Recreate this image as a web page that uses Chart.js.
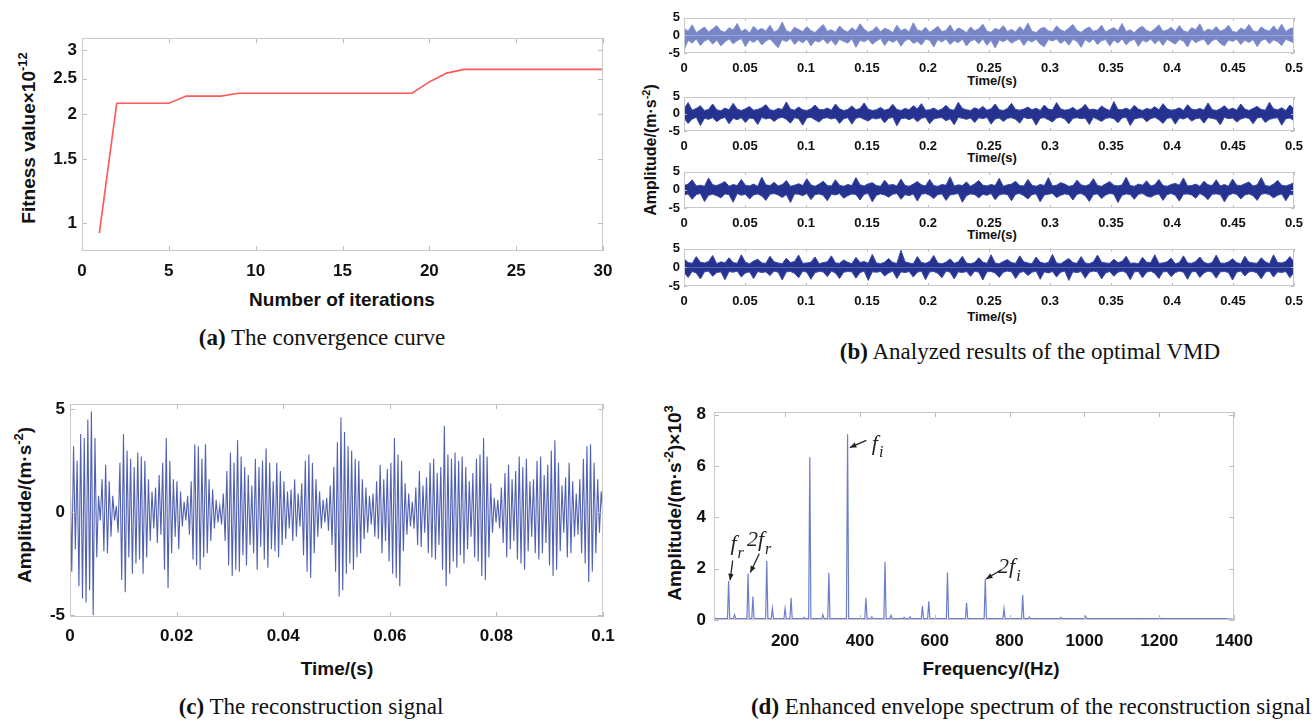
<!DOCTYPE html>
<html>
<head>
<meta charset="utf-8">
<script src="https://cdn.jsdelivr.net/npm/chart.js@4.4.1/dist/chart.umd.min.js"></script>
<style>
  body { margin: 0; background: #fff; width: 1315px; height: 724px; position: relative; overflow: hidden; }
  canvas { position: absolute; }
  .t { position: absolute; white-space: nowrap; font-weight: bold; color: #111; line-height: 1;
       font-family: 'Liberation Sans Narrow', 'Arial Narrow', 'Liberation Sans', Arial, sans-serif;
       transform: translate(-50%, -50%); }
  .rot { transform: translate(-50%, -50%) rotate(-90deg); }
  .t sup { font-size: 0.68em; line-height: 0; vertical-align: 0.55em; }
  .cap { position: absolute; white-space: nowrap; color: #111; line-height: 1;
         font-family: 'Liberation Serif', 'Times New Roman', serif; font-size: 23px;
         transform: translate(-50%, -50%); }
</style>
</head>
<body>

<div class="t rot" style="left:28px;top:138px;font-size:19px">Fitness value×10<sup>-12</sup></div>
<div class="t" style="left:342px;top:299px;font-size:19px">Number of iterations</div>
<div class="cap" style="left:322px;top:337px"><b>(a)</b> The convergence curve</div>

<div class="t rot" style="left:651px;top:150px;font-size:16px">Amplitude/(m·s<sup>-2</sup>)</div>
<div class="t" style="left:992px;top:80px;font-size:13px">Time/(s)</div>
<div class="t" style="left:992px;top:157px;font-size:13px">Time/(s)</div>
<div class="t" style="left:992px;top:234px;font-size:13px">Time/(s)</div>
<div class="t" style="left:992px;top:316px;font-size:13px">Time/(s)</div>
<div class="cap" style="left:1030px;top:351px"><b>(b)</b> Analyzed results of the optimal VMD</div>

<div class="t rot" style="left:24px;top:505px;font-size:19px">Amplitude/(m·s<sup>-2</sup>)</div>
<div class="t" style="left:337px;top:668px;font-size:19px">Time/(s)</div>
<div class="cap" style="left:311px;top:706px"><b>(c)</b> The reconstruction signal</div>

<div class="t rot" style="left:674px;top:503px;font-size:19px">Amplitude/(m·s<sup>-2</sup>)×10<sup>3</sup></div>
<div class="t" style="left:991px;top:668px;font-size:19px">Frequency/(Hz)</div>
<div class="cap" style="left:1031px;top:706px"><b>(d)</b> Enhanced envelope spectrum of the reconstruction signal</div>

<script>
// (a) convergence curve
const iterations = [1, 2, 3, 4, 5, 6, 7, 8, 9, 10, 11, 12, 13, 14, 15, 16, 17, 18, 19, 20, 21, 22, 23, 24, 25, 26, 27, 28, 29, 30];
const fitness = [0.94, 2.14, 2.14, 2.14, 2.14, 2.24, 2.24, 2.24, 2.28, 2.28, 2.28, 2.28, 2.28, 2.28, 2.28,
                 2.28, 2.28, 2.28, 2.28, 2.45, 2.59, 2.65, 2.65, 2.65, 2.65, 2.65, 2.65, 2.65, 2.65, 2.65];
const iterTicks = [0, 5, 10, 15, 20, 25, 30];
const fitnessTicks = [1, 1.5, 2, 2.5, 3];

// (b) VMD modes, 0 - 0.5 s: upper / lower excursions of each dense trace
const timeTicksB = [0, 0.05, 0.1, 0.15, 0.2, 0.25, 0.3, 0.35, 0.4, 0.45, 0.5];
const ampTicksB = [-5, 0, 5];
const mode1Hi = [
  2.1,1.2,3.0,0.8,1.6,2.4,1.0,1.9,2.8,1.3, 0.9,2.2,1.5,3.4,1.1,1.8,0.7,2.6,1.4,2.0,
  1.2,2.9,1.0,1.6,3.8,1.3,0.9,2.3,1.7,1.1, 2.5,1.4,0.8,2.0,3.1,1.2,1.6,0.9,2.7,1.5,
  1.0,2.2,1.3,3.3,1.8,0.9,1.4,2.5,1.1,2.0, 1.6,0.8,2.9,1.3,1.9,1.0,3.6,1.5,1.2,2.3,
  0.9,1.7,2.6,1.1,1.4,3.0,1.0,2.1,1.6,0.8, 2.4,1.3,1.9,3.2,1.2,0.9,2.0,1.5,2.8,1.1,
  1.7,1.0,2.5,1.4,3.5,1.2,0.8,1.9,2.3,1.3, 1.0,2.7,1.6,1.1,2.1,3.1,1.4,0.9,1.8,2.4,
  1.2,1.5,2.9,1.0,1.7,2.2,1.3,3.4,1.1,1.6, 0.8,2.0,2.6,1.4,1.0,1.9,3.0,1.2,1.5,2.3,
  1.1,2.8,1.3,0.9,2.2,1.6,3.3,1.0,1.8,1.4, 2.5,1.2,1.7,2.9,1.1,0.9,2.1,1.5,3.1,1.3,
  1.0,2.4,1.6,1.2,2.7,1.4,3.2,1.1,1.9,2.2
];
const mode1Lo = [
  -4.3,-1.4,-2.2,-1.0,-2.9,-1.6,-1.1,-2.5,-1.3,-3.0, -1.8,-1.0,-2.4,-1.5,-0.9,-3.2,-1.3,-2.0,-1.1,-2.7,
  -1.6,-1.0,-2.3,-3.5,-1.2,-1.8,-0.9,-2.6,-1.4,-2.1, -1.1,-3.0,-1.5,-1.9,-1.0,-2.4,-1.3,-2.8,-1.1,-1.7,
  -2.2,-1.0,-3.4,-1.4,-1.8,-1.1,-2.5,-1.6,-0.9,-2.9, -1.3,-2.0,-1.2,-3.1,-1.5,-1.0,-2.3,-1.7,-2.7,-1.1,
  -1.4,-3.3,-1.2,-1.9,-1.0,-2.6,-1.5,-2.1,-1.1,-3.0, -1.6,-1.2,-2.4,-1.0,-2.8,-1.4,-3.6,-1.3,-1.8,-1.1,
  -2.2,-1.5,-1.0,-2.9,-1.3,-1.9,-1.1,-2.5,-3.2,-1.2, -1.6,-1.0,-2.3,-1.4,-2.8,-1.1,-1.7,-3.4,-1.2,-2.0,
  -1.0,-2.6,-1.5,-1.2,-3.0,-1.3,-2.2,-1.0,-2.7,-1.6, -1.1,-3.1,-1.4,-1.9,-1.0,-2.4,-1.3,-2.9,-1.1,-1.8,
  -2.5,-1.2,-1.6,-3.3,-1.0,-2.1,-1.4,-1.1,-2.8,-1.5, -1.0,-2.3,-3.0,-1.3,-1.7,-1.1,-2.6,-1.4,-2.0,-1.2,
  -3.2,-1.5,-1.0,-2.4,-1.3,-1.8,-2.9,-1.1,-1.6,-2.2
];
const mode2Hi = [
  1.4,3.3,1.1,1.6,2.4,1.0,1.3,2.9,1.2,0.9, 1.7,1.2,3.1,1.4,1.0,1.5,2.2,1.1,1.3,1.8,
  2.7,1.2,1.0,1.6,1.3,3.5,1.4,1.1,2.0,1.2, 1.0,1.5,2.6,1.3,1.2,1.7,1.1,2.9,1.5,1.0,
  1.3,2.3,1.2,1.6,3.2,1.4,1.0,1.2,1.9,1.1, 1.4,2.8,1.3,1.0,1.6,1.2,2.4,1.5,3.0,1.1,
  1.2,1.7,1.0,1.4,2.5,1.3,1.1,3.4,1.6,1.2, 1.0,1.8,1.3,2.2,1.1,1.5,2.9,1.2,1.0,1.6,
  3.1,1.3,1.1,1.4,2.0,1.2,1.7,1.0,2.6,1.4, 1.2,3.3,1.5,1.1,1.3,1.9,1.0,1.6,2.8,1.2,
  1.4,1.1,2.3,1.5,1.0,3.6,1.3,1.2,1.7,1.1, 2.5,1.4,1.0,1.6,1.3,2.1,1.2,3.0,1.5,1.1,
  1.3,1.8,1.0,2.7,1.4,1.2,1.6,1.1,3.2,1.3, 1.0,1.5,2.4,1.2,1.7,1.1,2.9,1.4,1.0,1.6,
  2.2,1.3,1.1,3.4,1.5,1.2,1.8,1.0,2.6,1.4
];
const mode2Lo = [
  -1.2,-2.8,-1.5,-1.0,-3.4,-1.3,-1.6,-1.1,-2.3,-1.4, -1.0,-2.9,-1.3,-1.7,-1.1,-2.5,-1.2,-1.4,-3.1,-1.0,
  -1.5,-1.2,-2.2,-1.3,-1.0,-1.6,-2.7,-1.1,-1.4,-3.3, -1.2,-1.0,-1.7,-2.4,-1.3,-1.1,-1.5,-1.2,-2.8,-1.4,
  -1.1,-3.0,-1.3,-1.0,-1.6,-2.1,-1.2,-1.5,-1.1,-2.6, -1.3,-1.0,-3.5,-1.4,-1.2,-1.7,-1.1,-2.3,-1.3,-1.0,
  -2.9,-1.5,-1.2,-1.1,-2.0,-1.4,-3.2,-1.0,-1.3,-1.6, -1.2,-2.5,-1.1,-1.4,-1.0,-3.0,-1.5,-1.2,-2.2,-1.3,
  -1.1,-1.6,-2.7,-1.0,-1.4,-1.2,-3.3,-1.3,-1.1,-1.7, -2.4,-1.2,-1.0,-1.5,-2.9,-1.3,-1.1,-1.4,-1.2,-3.1,
  -1.0,-1.6,-2.2,-1.3,-1.1,-1.4,-2.6,-1.2,-1.0,-3.4, -1.5,-1.2,-1.1,-2.3,-1.4,-1.0,-1.7,-2.8,-1.3,-1.1,
  -3.0,-1.2,-1.5,-1.0,-2.1,-1.4,-1.2,-2.7,-1.1,-1.3, -1.6,-3.2,-1.0,-1.4,-1.2,-2.4,-1.5,-1.1,-1.3,-2.9,
  -1.2,-1.0,-2.5,-1.6,-1.3,-1.1,-3.3,-1.4,-1.2,-2.0
];
const mode3Hi = [
  1.2,1.6,2.8,1.1,1.3,1.0,3.3,1.4,1.2,1.7, 2.3,1.0,1.5,1.2,2.9,1.3,1.1,1.6,1.0,3.5,
  1.4,1.2,2.1,1.1,1.5,2.6,1.0,1.3,1.7,1.2, 3.1,1.4,1.0,1.6,2.4,1.2,1.1,2.8,1.3,1.0,
  1.5,1.2,3.4,1.4,1.1,1.7,2.0,1.2,1.0,2.7, 1.3,1.5,1.1,3.0,1.2,1.0,1.6,2.3,1.4,1.1,
  2.9,1.2,1.0,1.5,1.3,3.6,1.1,1.4,1.2,2.2, 1.0,1.7,2.6,1.3,1.1,1.5,1.2,3.2,1.0,1.4,
  1.6,2.4,1.2,1.1,2.9,1.3,1.0,1.5,1.2,3.4, 1.1,1.3,2.0,1.6,1.0,1.2,2.7,1.4,1.1,1.5,
  3.1,1.2,1.0,1.7,2.3,1.3,1.1,1.4,3.5,1.2, 1.0,1.6,1.3,2.5,1.1,1.4,2.9,1.2,1.0,1.5,
  1.8,1.3,3.3,1.1,1.2,1.6,1.0,2.4,1.4,1.2, 2.8,1.1,1.5,1.0,3.0,1.3,1.2,1.7,2.2,1.1,
  1.4,3.4,1.2,1.0,1.6,2.6,1.3,1.1,1.5,2.0
];
const mode3Lo = [
  -1.4,-1.1,-2.6,-1.3,-1.0,-3.2,-1.5,-1.2,-1.6,-2.2, -1.1,-1.3,-3.4,-1.0,-1.5,-1.2,-2.5,-1.4,-1.1,-1.7,
  -2.9,-1.2,-1.0,-1.4,-2.1,-1.3,-3.5,-1.1,-1.2,-1.6, -1.0,-2.7,-1.3,-1.1,-1.5,-3.0,-1.2,-1.4,-1.0,-2.3,
  -1.6,-1.1,-1.3,-2.8,-1.2,-1.0,-3.3,-1.5,-1.1,-1.4, -2.0,-1.2,-1.0,-2.6,-1.3,-1.6,-1.1,-3.1,-1.2,-1.0,
  -1.5,-2.4,-1.3,-1.1,-2.9,-1.4,-1.2,-1.0,-3.4,-1.6, -1.1,-1.3,-2.2,-1.2,-1.5,-1.0,-2.7,-1.4,-1.1,-1.3,
  -3.0,-1.2,-1.0,-1.6,-2.5,-1.3,-1.1,-3.3,-1.4,-1.2, -1.0,-2.1,-1.5,-1.1,-1.3,-2.8,-1.2,-1.0,-1.6,-3.2,
  -1.3,-1.1,-2.4,-1.4,-1.0,-1.2,-3.5,-1.5,-1.1,-1.3, -2.6,-1.2,-1.0,-1.7,-2.0,-1.4,-1.1,-2.9,-1.3,-1.0,
  -1.5,-3.1,-1.2,-1.1,-1.4,-2.3,-1.0,-1.6,-2.7,-1.2, -1.1,-1.3,-3.3,-1.5,-1.0,-1.2,-2.5,-1.4,-1.1,-1.6,
  -2.9,-1.2,-1.0,-1.3,-2.2,-1.5,-1.1,-3.0,-1.2,-1.4
];
const mode4Hi = [
  2.3,1.3,1.1,2.9,1.4,1.2,1.6,3.2,1.0,1.5, 1.2,2.6,1.3,1.1,3.4,1.4,1.0,1.7,2.2,1.2,
  1.1,3.0,1.5,1.2,1.0,2.5,1.3,1.6,3.3,1.1, 1.2,1.4,2.8,1.0,1.3,1.5,3.1,1.2,1.1,2.0,
  1.4,1.0,2.7,1.3,1.6,1.1,3.5,1.2,1.0,1.4, 2.4,1.3,1.1,4.6,1.5,1.2,1.0,2.9,1.3,1.1,
  1.6,3.2,1.2,1.0,1.4,2.3,1.1,1.5,3.0,1.2, 1.0,1.3,2.6,1.4,1.1,3.4,1.2,1.0,1.6,2.1,
  1.3,1.1,3.1,1.5,1.2,1.0,2.8,1.4,1.1,1.3, 3.5,1.2,1.0,1.7,2.4,1.3,1.1,2.9,1.2,1.0,
  1.5,3.3,1.4,1.2,1.1,2.2,1.3,1.6,3.0,1.1, 1.2,1.0,2.7,1.4,1.3,3.4,1.1,1.2,1.5,2.5,
  1.0,1.3,3.1,1.2,1.1,1.6,2.8,1.4,1.0,1.3, 3.3,1.2,1.1,1.5,2.3,1.3,1.0,3.0,1.4,1.2,
  1.1,2.6,1.5,1.0,3.4,1.3,1.2,1.6,2.9,1.4
];
const mode4Lo = [
  -1.3,-2.7,-1.1,-1.5,-3.1,-1.2,-1.0,-2.4,-1.4,-1.2, -3.3,-1.1,-1.3,-1.0,-2.6,-1.5,-1.2,-3.0,-1.1,-1.4,
  -1.2,-2.2,-1.0,-1.3,-3.4,-1.2,-1.1,-1.6,-2.8,-1.0, -1.3,-3.2,-1.4,-1.1,-1.2,-2.5,-1.0,-1.5,-3.0,-1.3,
  -1.1,-1.2,-2.9,-1.4,-1.0,-3.5,-1.2,-1.3,-1.1,-2.3, -1.5,-1.0,-3.0,-1.2,-1.4,-1.1,-2.6,-1.3,-1.0,-3.3,
  -1.2,-1.1,-1.6,-2.8,-1.0,-1.3,-3.1,-1.2,-1.4,-1.1, -2.4,-1.0,-1.3,-3.4,-1.2,-1.1,-1.5,-2.7,-1.3,-1.0,
  -1.2,-3.0,-1.4,-1.1,-2.2,-1.3,-1.0,-3.2,-1.2,-1.5, -1.1,-2.6,-1.3,-1.0,-3.5,-1.2,-1.4,-1.1,-2.9,-1.3,
  -1.0,-1.2,-3.1,-1.5,-1.1,-2.4,-1.3,-1.0,-1.4,-3.3, -1.2,-1.1,-2.8,-1.3,-1.0,-1.6,-3.0,-1.2,-1.1,-2.5,
  -1.4,-1.0,-1.3,-3.2,-1.2,-1.1,-2.7,-1.5,-1.0,-1.3, -2.9,-1.2,-1.1,-1.4,-3.4,-1.3,-1.0,-2.3,-1.2,-1.1,
  -1.5,-3.1,-1.3,-1.0,-2.6,-1.2,-1.4,-1.1,-2.8,-1.3
];

// (c) reconstruction signal, 0 - 0.1 s
const timeTicksC = [0, 0.02, 0.04, 0.06, 0.08, 0.1];
const ampTicksC = [-5, 0, 5];
const reconC = [
  2.2,-2.9,3.2,-1.8,2.5,-3.6,3.8,-4.2,3.6,-4.4, 4.5,-3.8,4.9,-5.0,3.6,-2.2,0.8,-0.4,1.6,-1.9,
  2.3,-2.0,1.5,-1.2,0.8,-0.4,0.3,-1.0,2.4,-3.3, 3.8,-3.9,3.0,-2.2,2.6,-3.0,2.2,-2.5,2.9,-2.3,
  2.7,-3.0,2.5,-2.2,1.6,-1.4,1.0,-0.8,1.2,-1.5, 1.8,-1.1,2.4,-2.8,3.6,-3.7,2.5,-2.0,1.6,-1.2,
  1.5,-1.8,1.0,-0.7,0.5,-0.4,0.8,-1.1,1.5,-2.3, 3.3,-2.6,3.2,-2.8,2.6,-2.2,3.3,-2.0,1.6,-1.4,
  1.1,-0.8,0.6,-0.5,0.3,-0.6,0.9,-1.4,2.0,-2.6, 2.9,-3.1,2.4,-2.8,3.5,-2.9,2.7,-2.1,2.2,-2.6,
  1.8,-1.6,1.3,-2.0,2.6,-2.8,2.2,-1.7,2.5,-2.3, 3.1,-2.7,2.4,-1.8,1.5,-1.9,2.4,-2.2,2.0,-1.6,
  1.5,-1.3,1.0,-0.8,1.1,-1.4,1.6,-1.2,0.9,-0.7, 1.4,-2.1,2.5,-2.9,2.8,-3.2,2.4,-2.0,1.6,-1.2,
  1.0,-0.8,0.6,-0.5,0.7,-0.9,1.3,-1.6,2.2,-2.9, 3.4,-4.1,4.6,-3.8,3.9,-3.0,3.2,-2.5,3.0,-2.8,
  2.6,-2.2,2.5,-2.0,1.6,-1.3,1.2,-1.0,0.8,-0.6, 0.9,-1.2,1.5,-1.3,2.3,-2.0,1.6,-1.4,2.1,-2.4,
  2.4,-3.0,3.6,-3.2,2.8,-3.6,2.5,-1.9,1.4,-1.1, 0.9,-0.7,0.5,-0.8,1.2,-1.6,2.0,-1.7,1.3,-1.0,
  1.7,-2.0,2.4,-2.2,2.6,-2.3,1.9,-1.6,2.2,-2.8, 4.2,-3.6,2.8,-3.0,2.6,-2.4,2.9,-2.7,2.5,-2.1,
  2.7,-2.5,2.2,-1.8,1.5,-1.2,1.9,-2.2,2.6,-2.4, 2.8,-3.1,3.6,-3.3,2.7,-2.2,1.4,-1.0,0.7,-0.5,
  0.6,-0.8,1.2,-1.5,1.9,-2.2,2.3,-1.8,1.6,-1.4, 2.0,-2.3,2.7,-2.5,2.2,-2.8,2.6,-1.9,1.5,-1.2,
  1.6,-2.0,2.5,-2.3,2.7,-2.0,1.8,-1.5,2.3,-2.6, 3.0,-3.1,3.5,-2.8,2.4,-1.9,1.3,-1.0,1.7,-2.2,
  2.4,-2.0,1.5,-1.2,0.9,-1.1,1.6,-2.0,2.6,-2.5, 3.2,-3.4,3.3,-2.9,2.4,-2.0,1.6,-1.0,1.0,-0.2
];

// (d) envelope spectrum
const freqTicks = [200, 400, 600, 800, 1000, 1200, 1400];
const specTicks = [0, 2, 4, 6, 8];
const peakFreq = [49, 65, 101, 114, 151, 166, 200, 216, 251, 266, 301, 317, 367, 416, 432, 467, 483,
                  518, 534, 567, 584, 634, 685, 735, 785, 835, 853, 937, 1003, 1154, 1206, 1371];
const peakAmp = [1.52, 0.2, 1.8, 0.91, 2.3, 0.45, 0.45, 0.87, 0.1, 6.34, 0.2, 1.84, 7.24, 0.87, 0.12, 2.27, 0.18,
                 0.1, 0.12, 0.55, 0.73, 1.85, 0.67, 1.6, 0.45, 0.97, 0.12, 0.1, 0.14, 0.06, 0.07, 0.05];
const specFloor = 0.05;

const NARROW = "'Liberation Sans Narrow', 'Arial Narrow', 'Liberation Sans', Arial, sans-serif";
const SERIF = "'Liberation Serif', 'Times New Roman', serif";

// box + inward tick marks, matlab style
const boxPlugin = {
  id: 'box',
  afterDatasetsDraw(chart, args, opts) {
    const { ctx, chartArea: a, scales: { x, y } } = chart;
    const L = opts.len || 5;
    ctx.save();
    ctx.strokeStyle = '#bcbcbc';
    ctx.lineWidth = 1;
    ctx.beginPath();
    x.ticks.forEach(t => {
      const p = Math.round(x.getPixelForValue(t.value)) + 0.5;
      ctx.moveTo(p, a.bottom); ctx.lineTo(p, a.bottom - L);
      ctx.moveTo(p, a.top); ctx.lineTo(p, a.top + L);
    });
    y.ticks.forEach(t => {
      const p = Math.round(y.getPixelForValue(t.value)) + 0.5;
      ctx.moveTo(a.left, p); ctx.lineTo(a.left + L, p);
      ctx.moveTo(a.right, p); ctx.lineTo(a.right - L, p);
    });
    ctx.stroke();
    ctx.strokeStyle = '#c8c8c8';
    ctx.strokeRect(Math.round(a.left) + 0.5, Math.round(a.top) + 0.5,
                   Math.round(a.right - a.left) - 1, Math.round(a.bottom - a.top) - 1);
    ctx.restore();
  }
};

// f_r, 2f_r, f_i, 2f_i labels (data units)
const specNotes = [
  { pre: '',  sub: 'r', tx: 62,  ty: 2.95, x0: 60,  y0: 2.32, x1: 53,  y1: 1.55 },
  { pre: '2', sub: 'r', tx: 121, ty: 3.1,  x0: 131, y0: 2.58, x1: 107, y1: 1.85 },
  { pre: '',  sub: 'i', tx: 440, ty: 6.85, x0: 417, y0: 7.0,  x1: 373, y1: 6.72 },
  { pre: '2', sub: 'i', tx: 792, ty: 2.05, x0: 778, y0: 1.96, x1: 737, y1: 1.6 }
];
const notePlugin = {
  id: 'notes',
  afterDatasetsDraw(chart) {
    const { ctx, scales: { x, y } } = chart;
    ctx.save();
    ctx.fillStyle = '#222';
    ctx.strokeStyle = '#222';
    ctx.lineWidth = 1.3;
    specNotes.forEach(n => {
      // arrow
      const ax0 = x.getPixelForValue(n.x0), ay0 = y.getPixelForValue(n.y0);
      const ax1 = x.getPixelForValue(n.x1), ay1 = y.getPixelForValue(n.y1);
      const ang = Math.atan2(ay1 - ay0, ax1 - ax0);
      ctx.beginPath(); ctx.moveTo(ax0, ay0); ctx.lineTo(ax1, ay1); ctx.stroke();
      ctx.beginPath();
      ctx.moveTo(ax1, ay1);
      ctx.lineTo(ax1 - 7 * Math.cos(ang - 0.4), ay1 - 7 * Math.sin(ang - 0.4));
      ctx.lineTo(ax1 - 7 * Math.cos(ang + 0.4), ay1 - 7 * Math.sin(ang + 0.4));
      ctx.closePath(); ctx.fill();
      // text
      const px = x.getPixelForValue(n.tx), py = y.getPixelForValue(n.ty);
      ctx.textBaseline = 'middle';
      ctx.font = 'italic 22px ' + SERIF;
      const main = n.pre + 'f';
      const w = ctx.measureText(main).width;
      ctx.fillText(main, px - w / 2, py);
      ctx.font = 'italic 16px ' + SERIF;
      ctx.fillText(n.sub, px + w / 2 + 1, py + 9);
    });
    ctx.restore();
  }
};

function makePanel(box, yw, xh, type, datasets, sc) {
  const pt = 6, pr = 24;
  const w = box[2] - box[0] + yw + pr;
  const h = box[3] - box[1] + pt + xh;
  const c = document.createElement('canvas');
  c.width = w; c.height = h;
  c.style.left = (box[0] - yw) + 'px';
  c.style.top = (box[1] - pt) + 'px';
  c.style.width = w + 'px';
  c.style.height = h + 'px';
  document.body.appendChild(c);
  const font = { family: NARROW, size: sc.fs, weight: 'bold' };
  return new Chart(c.getContext('2d'), {
    type: type,
    data: { datasets: datasets },
    plugins: [boxPlugin].concat(sc.extra || []),
    options: {
      responsive: false,
      animation: false,
      devicePixelRatio: 1,
      layout: { autoPadding: false, padding: { top: pt, right: pr, left: 0, bottom: 0 } },
      plugins: { legend: { display: false }, tooltip: { enabled: false }, box: { len: sc.len || 5 } },
      elements: { point: { radius: 0 } },
      scales: {
        x: {
          type: 'linear', min: sc.xmin, max: sc.xmax,
          grid: { display: false, drawTicks: false }, border: { display: false },
          afterBuildTicks: s => { s.ticks = sc.xt.map(v => ({ value: v })); },
          afterFit: s => { s.height = xh; },
          ticks: { font: font, color: '#111', padding: sc.xpad, autoSkip: false, maxRotation: 0,
                   callback: v => String(v) }
        },
        y: {
          type: sc.ytype || 'linear', min: sc.ymin, max: sc.ymax,
          grid: { display: false, drawTicks: false }, border: { display: false },
          afterBuildTicks: s => { s.ticks = sc.yt.map(v => ({ value: v })); },
          afterFit: s => { s.width = yw; },
          ticks: { font: font, color: '#111', padding: sc.ypad, autoSkip: false,
                   callback: v => String(v) }
        }
      }
    }
  });
}

function series(vals, t1) {
  return vals.map((v, i) => ({ x: i * t1 / (vals.length - 1), y: v }));
}

// (a)
makePanel([82, 29, 603, 251], 40, 40, 'line', [{
  data: iterations.map((it, i) => ({ x: it, y: fitness[i] })),
  borderColor: '#ff5a5a', borderWidth: 1.7, tension: 0
}], { xmin: 0, xmax: 30, xt: iterTicks, ymin: 0.84, ymax: 3.23, yt: fitnessTicks, ytype: 'logarithmic',
      fs: 17, xpad: 10, ypad: 5 });

// (b) each band = upper and lower excursions filled to zero (opaque, so no seam at 0)
const bBoxes = [[684, 12, 1294, 53], [684, 91, 1294, 131], [684, 166, 1294, 208], [684, 243, 1294, 286]];
const bHi = [mode1Hi, mode2Hi, mode3Hi, mode4Hi];
const bLo = [mode1Lo, mode2Lo, mode3Lo, mode4Lo];
bHi.forEach((hi, k) => {
  const light = k === 0;
  const fillCol = light ? '#7886c9' : '#25328f';
  const edgeCol = light ? '#8592cf' : '#3a4aa6';
  const band = vals => ({ data: series(vals, 0.5), fill: 'origin', backgroundColor: fillCol,
                          borderColor: edgeCol, borderWidth: 1, tension: 0 });
  makePanel(bBoxes[k], 24, 24, 'line', [band(hi), band(bLo[k])],
    { xmin: 0, xmax: 0.5, xt: timeTicksB, ymin: -5, ymax: 5, yt: ampTicksB, fs: 13, xpad: 8, ypad: 4, len: 3 });
});

// (c)
makePanel([70, 395, 603, 617], 40, 40, 'line', [{
  data: series(reconC, 0.1),
  borderColor: 'rgba(62,80,170,0.9)', borderWidth: 1.1, tension: 0
}], { xmin: 0, xmax: 0.1, xt: timeTicksC, ymin: -5.1, ymax: 5.25, yt: ampTicksC,
      fs: 17, xpad: 9, ypad: 5 });

// (d)
const specPts = [{ x: 10, y: specFloor }];
peakFreq.forEach((f, i) => {
  specPts.push({ x: f - 3, y: specFloor }, { x: f, y: peakAmp[i] }, { x: f + 3, y: specFloor });
});
specPts.push({ x: 1400, y: specFloor * 0.6 });
makePanel([714, 400, 1240, 620], 40, 40, 'line', [{
  data: specPts,
  borderColor: 'rgba(100,118,200,0.95)', borderWidth: 1.2, tension: 0
}], { xmin: 10, xmax: 1400, xt: freqTicks, ymin: 0, ymax: 8.1, yt: specTicks,
      fs: 17, xpad: 11, ypad: 8, extra: [notePlugin] });
</script>
</body>
</html>
